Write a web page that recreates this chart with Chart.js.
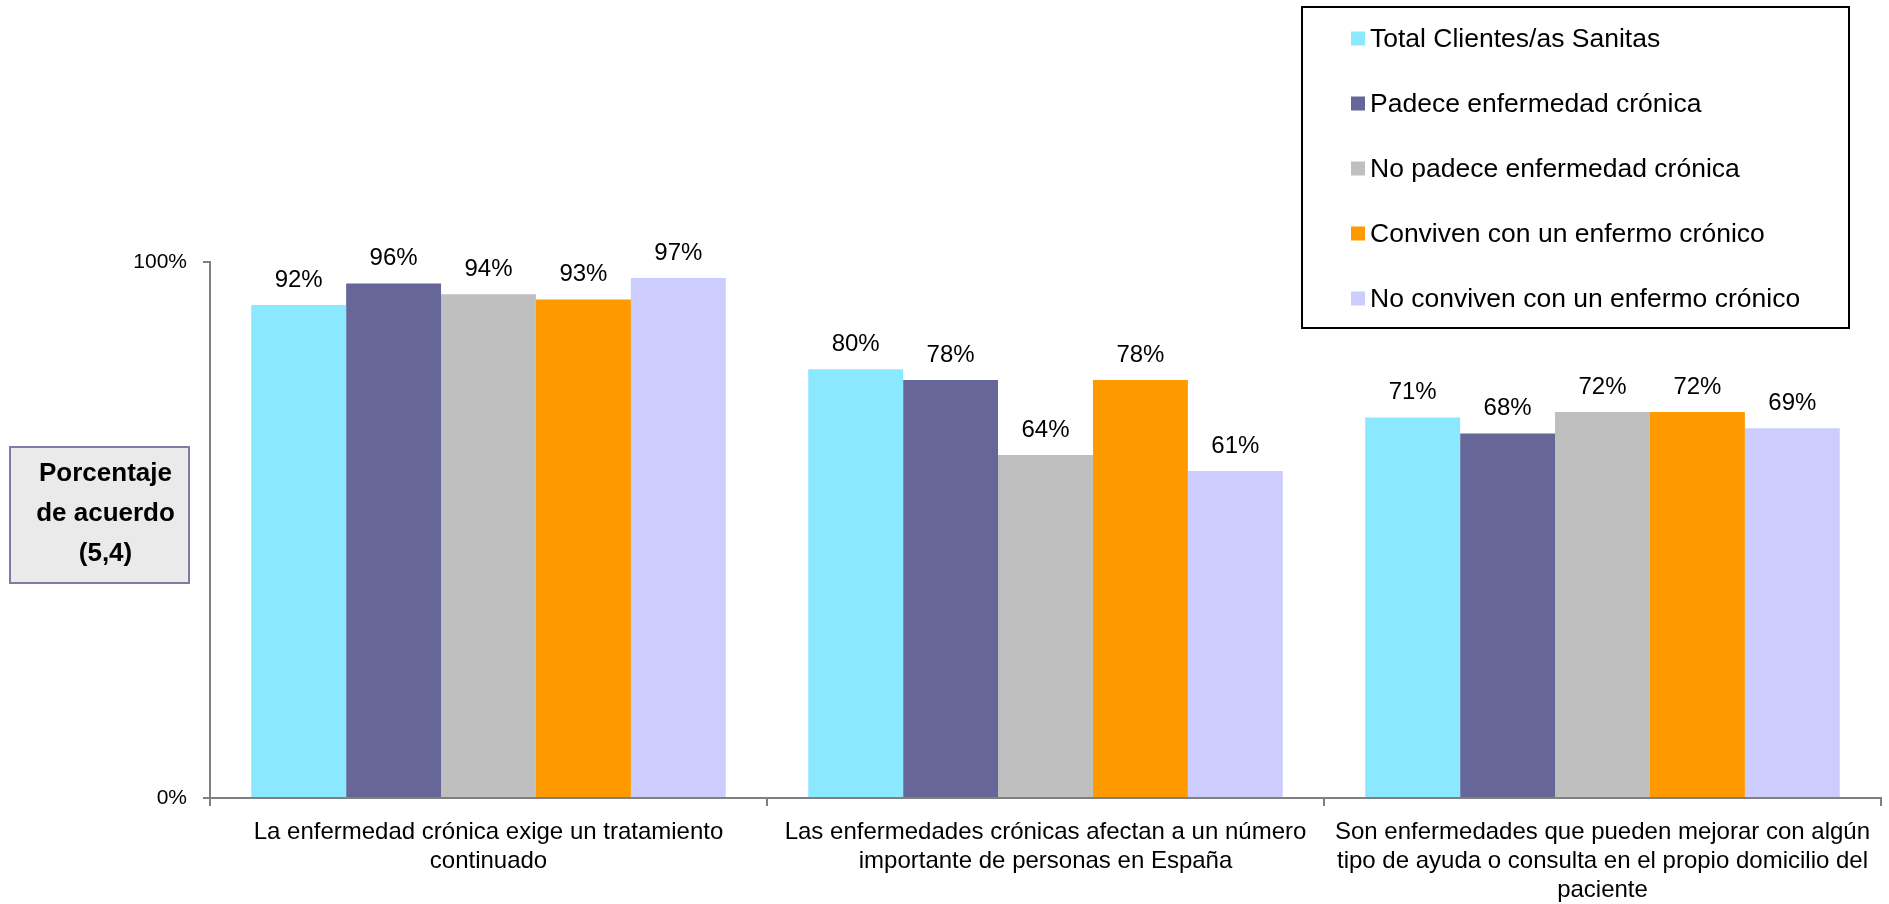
<!DOCTYPE html>
<html>
<head>
<meta charset="utf-8">
<script src="https://cdn.jsdelivr.net/npm/chart.js@4.4.1/dist/chart.umd.min.js"></script>
<style>
  html, body { margin: 0; padding: 0; background: #ffffff; }
  #wrap { width: 1889px; height: 904px; }
</style>
</head>
<body>
<div id="wrap"><canvas id="c" width="1889" height="904"></canvas></div>
<script>
const categories = [
  ["La enfermedad crónica exige un tratamiento", "continuado"],
  ["Las enfermedades crónicas afectan a un número", "importante de personas en España"],
  ["Son enfermedades que pueden mejorar con algún", "tipo de ayuda o consulta en el propio domicilio del", "paciente"]
];
const seriesNames = [
  "Total Clientes/as Sanitas",
  "Padece enfermedad crónica",
  "No padece enfermedad crónica",
  "Conviven con un enfermo crónico",
  "No conviven con un enfermo crónico"
];
const totalClientes = [92, 80, 71];
const padece = [96, 78, 68];
const noPadece = [94, 64, 72];
const conviven = [93, 78, 72];
const noConviven = [97, 61, 69];
const yTickValues = [0, 100];
const yTitleLines = ["Porcentaje", "de acuerdo", "(5,4)"];

const colors = ["#8BE9FF", "#666699", "#BFBFBF", "#FF9900", "#CCCCFF"];
const seriesValues = [totalClientes, padece, noPadece, conviven, noConviven];
const FONT = "'Liberation Sans', Arial, sans-serif";

const decorPlugin = {
  id: 'decor',
  afterDatasetsDraw(chart) {
    const ctx = chart.ctx;
    ctx.save();
    ctx.font = "24px " + FONT;
    ctx.fillStyle = "#000";
    ctx.textAlign = "center";
    ctx.textBaseline = "middle";
    chart.data.datasets.forEach((ds, i) => {
      const meta = chart.getDatasetMeta(i);
      meta.data.forEach((bar, j) => {
        ctx.fillText(ds.data[j] + "%", bar.x, bar.y - 25);
      });
    });
    ctx.restore();
  },
  afterDraw(chart) {
    const ctx = chart.ctx;
    ctx.save();
    // legend box
    ctx.lineWidth = 2;
    ctx.strokeStyle = "#000";
    ctx.fillStyle = "#fff";
    ctx.fillRect(1302, 7, 547, 321);
    ctx.strokeRect(1302, 7, 547, 321);
    ctx.font = "26.5px " + FONT;
    ctx.textAlign = "left";
    ctx.textBaseline = "middle";
    chart.data.datasets.forEach((ds, i) => {
      const cy = 38.5 + i * 65;
      ctx.fillStyle = ds.backgroundColor;
      ctx.fillRect(1351, cy - 7, 14, 14);
      ctx.fillStyle = "#000";
      ctx.fillText(ds.label, 1370, cy + 1);
    });
    // y title box
    ctx.fillStyle = "#EAEAEA";
    ctx.fillRect(10, 447, 179, 136);
    ctx.strokeStyle = "#7C7CA6";
    ctx.lineWidth = 2;
    ctx.strokeRect(10, 447, 179, 136);
    ctx.fillStyle = "#000";
    ctx.font = "bold 26px " + FONT;
    ctx.textAlign = "center";
    yTitleLines.forEach((t, i) => {
      ctx.fillText(t, 105.5, 474 + i * 40);
    });
    ctx.restore();
  }
};

new Chart(document.getElementById('c'), {
  type: 'bar',
  data: {
    labels: categories,
    datasets: seriesNames.map((n, i) => ({
      label: n,
      data: seriesValues[i],
      backgroundColor: colors[i],
      borderWidth: 0,
      categoryPercentage: 0.852,
      barPercentage: 1.0
    }))
  },
  options: {
    responsive: false,
    animation: false,
    devicePixelRatio: 1,
    layout: { padding: { top: 262, right: 8, left: 0, bottom: 0 } },
    plugins: { legend: { display: false }, tooltip: { enabled: false } },
    scales: {
      x: {
        offset: true,
        grid: { display: true, offset: true, drawOnChartArea: false, drawTicks: true, tickLength: 8, color: '#808080', lineWidth: 2 },
        border: { display: true, color: '#808080', width: 2 },
        ticks: { color: '#000', font: { family: FONT, size: 24, lineHeight: 1.2 }, padding: 12, maxRotation: 0, autoSkip: false },
        afterFit(scale) { scale.height = 106; }
      },
      y: {
        min: 0, max: 100,
        afterBuildTicks(scale) { scale.ticks = yTickValues.map(v => ({ value: v })); },
        grid: { display: true, drawOnChartArea: false, drawTicks: true, tickLength: 7, color: '#808080', lineWidth: 2 },
        border: { display: true, color: '#808080', width: 2 },
        ticks: { color: '#000', font: { family: FONT, size: 21 }, padding: 16, callback: v => v + '%' },
        afterFit(scale) { scale.width = 210; }
      }
    }
  },
  plugins: [decorPlugin]
});
</script>
</body>
</html>
